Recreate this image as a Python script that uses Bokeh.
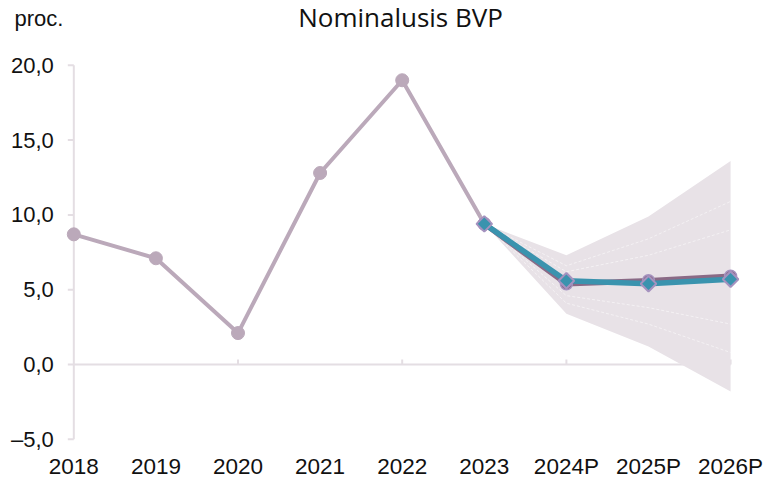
import math
from bokeh.plotting import figure
from bokeh.models import Range1d
from bokeh.core.properties import value
from bokeh.embed import file_html
from bokeh.resources import INLINE

# ---- data ----
categories = ["2018", "2019", "2020", "2021", "2022", "2023", "2024P", "2025P", "2026P"]
history = [8.7, 7.1, 2.1, 12.8, 19.0, 9.4]            # 2018-2023
fc_categories = ["2023", "2024P", "2025P", "2026P"]
forecast_a = [9.4, 5.4, 5.6, 5.9]                    # purple line
forecast_b = [9.4, 5.6, 5.4, 5.7]                    # teal line
lower90 = [9.4, 3.4, 1.2, -1.8]
lower70 = [9.4, 4.1, 2.7, 0.8]
lower50 = [9.4, 4.6, 3.8, 2.7]
upper50 = [9.4, 6.2, 7.3, 9.0]
upper70 = [9.4, 6.6, 8.4, 10.9]
upper90 = [9.4, 7.3, 9.9, 13.6]
y_ticks = [-5, 0, 5, 10, 15, 20]
y_tick_labels = ["\u20135,0", "0,0", "5,0", "10,0", "15,0", "20,0"]
zero_tick_categories = ["2020", "2022", "2024P", "2026P"]
title_text = "Nominalusis BVP"
unit_text = "proc."

idx = {c: i for i, c in enumerate(categories)}
xi = list(range(len(categories)))
hx = [idx[c] for c in categories[:len(history)]]
fx = [idx[c] for c in fc_categories]

AXIS_COL = "#E4DEE3"
HIST_COL = "#BBA9BA"
PURPLE = "#8A6A86"
TEAL = "#3A93AE"
LAV = "#A592BF"
FAN = "#E8E2E7"
TXT = "#111111"

# frame covers the whole canvas; axes drawn by hand
p = figure(width=769, height=480, output_backend="svg", toolbar_location=None,
           x_range=Range1d(-0.893, 8.474), y_range=Range1d(-7.754, 24.33),
           x_axis_location=None, y_axis_location=None,
           min_border_left=0, min_border_right=0, min_border_top=0, min_border_bottom=0)
p.outline_line_color = None
p.xgrid.visible = False
p.ygrid.visible = False
p.background_fill_color = "white"
p.border_fill_color = "white"

# y axis line, ticks and labels
p.segment(x0=0, y0=min(y_ticks), x1=0, y1=max(y_ticks), line_color=AXIS_COL, line_width=2)
p.ray(x=[0] * len(y_ticks), y=y_ticks, length=6, length_units="screen", angle=math.pi,
      line_color=AXIS_COL, line_width=2)
p.text(x=[0] * len(y_ticks), y=y_ticks, text=y_tick_labels, x_offset=-20,
       text_align="right", text_baseline="middle", text_font=value("Liberation Sans"),
       text_font_size="22px", text_color=TXT)

# zero line with ticks
p.segment(x0=0, y0=0, x1=len(categories) - 1, y1=0, line_color=AXIS_COL, line_width=2)
p.ray(x=[idx[c] for c in zero_tick_categories], y=[0] * len(zero_tick_categories), length=5,
      length_units="screen", angle=math.pi / 2, line_color=AXIS_COL, line_width=2)

# x labels (below the bottom of the y axis)
p.text(x=xi, y=[min(y_ticks)] * len(xi), text=categories, y_offset=27,
       text_align="center", text_baseline="middle", text_font=value("Liberation Sans"),
       text_font_size="22.5px", text_color=TXT)

# fan
p.varea(x=fx, y1=lower90, y2=upper90, fill_color=FAN, fill_alpha=1)
for band in (lower70, lower50, upper50, upper70):
    p.line(fx, band, line_color="white", line_alpha=0.5, line_width=1, line_dash="3 2")

# history
p.line(hx, history, line_color=HIST_COL, line_width=4)
p.scatter(hx, history, size=13, fill_color=HIST_COL, line_color=HIST_COL)

# forecast lines
p.line(fx, forecast_a, line_color=PURPLE, line_width=5.5)
p.scatter(fx, forecast_a, size=12, fill_color=PURPLE, line_color=LAV, line_width=1.5)
p.line(fx, forecast_b, line_color=TEAL, line_width=5.5)
p.scatter(fx, forecast_b, marker="square", angle=math.pi / 4, size=11,
          fill_color=TEAL, line_color=LAV, line_width=2)

# title & unit
p.text(x=[3.98], y=[23.21], text=[title_text], text_align="center", text_baseline="middle",
       text_font=value("Open Sans"), text_font_size="26px", text_color=TXT)
p.text(x=[-0.722], y=[23.13], text=[unit_text], text_align="left", text_baseline="middle",
       text_font=value("Liberation Sans"), text_font_size="22px", text_color=TXT)

open("out.html", "w").write(file_html(p, INLINE))
